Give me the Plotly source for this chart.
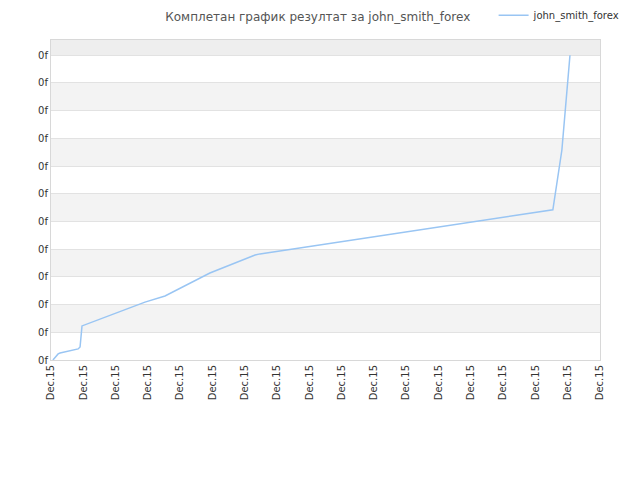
import plotly.graph_objects as go

# Data (x in tick-index units, y in gridline units)
x_vals = [0.06, 0.22, 0.28, 0.84, 0.90, 0.93, 0.96, 2.91, 3.53, 4.92, 6.32, 6.47, 15.54, 15.82, 16.07]
y_vals = [0.00, 0.22, 0.25, 0.40, 0.47, 0.97, 1.23, 2.09, 2.31, 3.14, 3.79, 3.83, 5.42, 7.58, 11.0]

x_ticks = list(range(18))
x_labels = ["Dec.15"] * 18
y_ticks = list(range(12))
y_labels = ["0f"] * 12
y_top = 11.55

series_name = "john_smith_forex"
title_text = "Комплетан график резултат за john_smith_forex"

fig = go.Figure()
fig.add_trace(go.Scatter(x=x_vals, y=y_vals, mode="lines", name=series_name,
                         showlegend=True,
                         line=dict(color="#99c5f3", width=1.5)))

shapes = []
for i in range(len(y_ticks) - 1):
    if i % 2 == 1:
        shapes.append(dict(type="rect", xref="paper", yref="y", x0=0, x1=1,
                           y0=y_ticks[i], y1=y_ticks[i + 1], fillcolor="#f3f3f3",
                           line=dict(width=0), layer="below"))
shapes.append(dict(type="rect", xref="paper", yref="y", x0=0, x1=1,
                   y0=y_ticks[-1], y1=y_top, fillcolor="#eeeeee",
                   line=dict(width=0), layer="below"))

fig.update_layout(
    width=640, height=480,
    margin=dict(l=43, r=48, t=32, b=128, autoexpand=False),
    paper_bgcolor="white", plot_bgcolor="white",
    font=dict(family="DejaVu Sans", size=10, color="#333333"),
    title=dict(text=title_text, x=0.484, xanchor="center", y=0.99, yanchor="top",
               xref="container", yref="container", pad=dict(t=0, b=0),
               font=dict(family="DejaVu Sans", size=12, color="#555555")),
    showlegend=True,
    legend=dict(orientation="h", xref="container", yref="container",
                x=0.965, xanchor="right", y=0.985, yanchor="middle",
                font=dict(family="DejaVu Sans", size=10, color="#333333"),
                bgcolor="rgba(0,0,0,0)", itemwidth=30),
    shapes=shapes,
    xaxis=dict(range=[0, 17], tickvals=x_ticks, ticktext=x_labels, tickangle=-90,
               showgrid=False, zeroline=False, showline=True, linecolor="#d8d8d8",
               linewidth=1, mirror=True, ticks="", tickfont=dict(size=10, color="#333333")),
    yaxis=dict(range=[0, y_top], tickvals=y_ticks, ticktext=y_labels,
               showgrid=True, gridcolor="#e2e2e2", gridwidth=1, zeroline=False,
               showline=True, linecolor="#d8d8d8", linewidth=1, mirror=True, ticks="",
               tickfont=dict(size=10, color="#333333")),
)

fig.write_html("out.html")
